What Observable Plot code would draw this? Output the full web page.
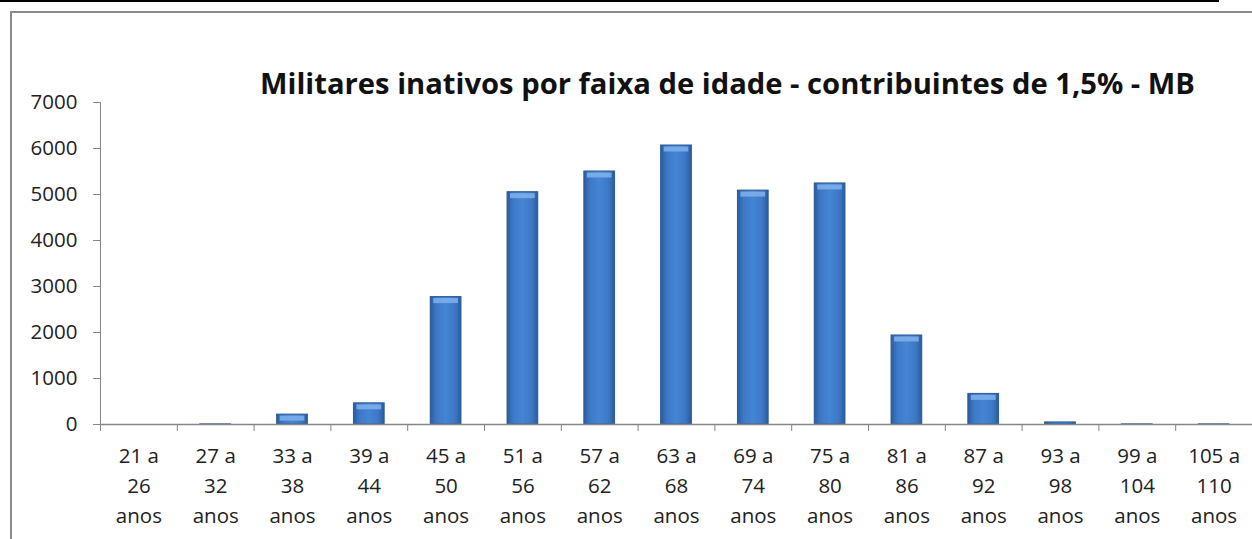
<!DOCTYPE html>
<html><head><meta charset="utf-8">
<script src="https://cdn.jsdelivr.net/npm/d3@7"></script>
<script src="https://cdn.jsdelivr.net/npm/@observablehq/plot@0.6"></script>
<style>
html,body{margin:0;padding:0;background:#fff}
body{width:1252px;height:539px;overflow:hidden;position:relative;font-family:"Open Sans",sans-serif}
#topline{position:absolute;left:0;top:0;width:1219px;height:2px;background:#000}
#box{position:absolute;left:10px;top:11px;width:1300px;height:600px;border-left:2px solid #8a8a8a;border-top:2px solid #8a8a8a}
#title{position:absolute;left:260px;top:69px;white-space:nowrap;font-weight:bold;font-size:29.2px;line-height:29px;color:#111;font-family:"Open Sans",sans-serif}
#chart{position:absolute;left:0;top:0}
</style></head>
<body>
<div id="topline"></div>
<div id="box"></div>
<div id="chart"></div>
<div id="title">Militares inativos por faixa de idade - contribuintes de 1,5% - MB</div>
<script>
const categories = ["21 a 26 anos","27 a 32 anos","33 a 38 anos","39 a 44 anos","45 a 50 anos","51 a 56 anos","57 a 62 anos","63 a 68 anos","69 a 74 anos","75 a 80 anos","81 a 86 anos","87 a 92 anos","93 a 98 anos","99 a 104 anos","105 a 110 anos"];
const values = [0, 3, 215, 460, 2770, 5050, 5500, 6065, 5085, 5240, 1935, 665, 45, 3, 3];
const yTicks = [0, 1000, 2000, 3000, 4000, 5000, 6000, 7000];

const data = categories.map((c, i) => ({faixa: c, total: values[i]}));
const fmtLabel = d => { const p = d.split(" "); return p[0] + " " + p[1] + "\n" + p[2] + "\n" + p[3]; };

const chart = Plot.plot({
  width: 1252,
  height: 539,
  marginLeft: 100,
  marginRight: 0,
  marginTop: 102,
  marginBottom: 115,
  style: {fontFamily: "'Open Sans', sans-serif", fontSize: "20px", color: "#222", background: "transparent"},
  x: {domain: categories, paddingInner: 0.6, paddingOuter: 0.3, round: false, label: null},
  y: {domain: [0, 7000], label: null},
  marks: [
    Plot.frame({anchor: "left", stroke: "#868686", strokeOpacity: 1}),
    Plot.axisY({ticks: yTicks, tickSize: 7, tickPadding: 16, stroke: "#868686", fill: "#222", fontSize: 20.5, tickFormat: d => String(d)}),
    Plot.axisX({tickSize: 7, dx: -38.4, stroke: "#868686", tickFormat: () => ""}),
    Plot.axisX({tickSize: 0, tickPadding: 17, fill: "#222", fontSize: 20.5, lineHeight: 1.46, tickFormat: fmtLabel}),
    Plot.barY(data, {x: "faixa", y: "total", fill: "url(#barGrad)", stroke: "#2c5a97", strokeWidth: 1, style: "filter: drop-shadow(1px 1px 1.5px rgba(0,0,0,0.35))"}),
    Plot.tickY(data.filter(d => d.total > 150), {x: "faixa", y: "total", stroke: "#7fb2ec", strokeWidth: 5, strokeOpacity: 0.85, dy: 3.5, insetLeft: 3, insetRight: 3}),
    Plot.ruleY([0], {stroke: "#868686", strokeWidth: 1.5})
  ]
});
const ns = "http://www.w3.org/2000/svg";
const defs = document.createElementNS(ns, "defs");
defs.innerHTML = '<linearGradient id="barGrad" x1="0" x2="1" y1="0" y2="0">' +
  '<stop offset="0" stop-color="#2b5c9c"/><stop offset="0.2" stop-color="#3d78c6"/>' +
  '<stop offset="0.5" stop-color="#4585d3"/><stop offset="0.8" stop-color="#3d78c6"/>' +
  '<stop offset="1" stop-color="#2b5c9c"/></linearGradient>';
chart.prepend(defs);
document.getElementById("chart").appendChild(chart);
</script>
</body></html>
